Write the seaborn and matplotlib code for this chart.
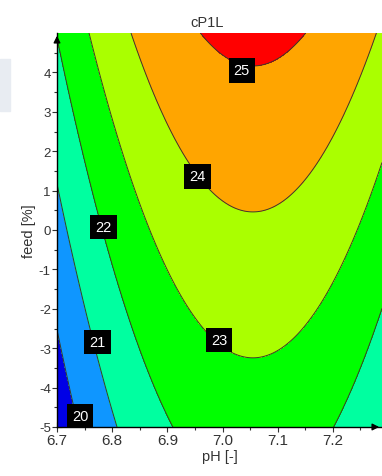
import numpy as np
import matplotlib
matplotlib.use("Agg")
import matplotlib.pyplot as plt
import matplotlib.patches as mpatches
import seaborn as sns

# Response surface model for cP1L (coefficients)
ph_opt = 7.055        # pH at which the response peaks
coef_const = 23.876   # response at feed 0, pH optimum
coef_feed = 0.27      # linear feed effect
coef_ph2 = 24.8       # curvature in pH
coef_ph3 = 1.5        # slight asymmetry in pH

# Contour levels and fill colours
levels = [20, 21, 22, 23, 24, 25]
fill_colors = ["#0000e6", "#0f96ff", "#00ffa0", "#00ff00", "#aaff00", "#ffa500", "#ff0000"]

# Labels of the contour lines
label_text = ["25", "24", "22", "21", "23", "20"]
label_ph = [7.035, 6.955, 6.784, 6.773, 6.994, 6.742]
label_feed = [4.05, 1.36, 0.08, -2.85, -2.80, -4.73]

ph_min, ph_max = 6.7, 7.289
feed_min, feed_max = -5, 5

sns.set_theme(style="white")
plt.rcParams["font.family"] = ["Liberation Sans", "DejaVu Sans"]
plt.rcParams["axes.unicode_minus"] = False

ph = np.linspace(ph_min, ph_max, 400)
feed = np.linspace(feed_min, feed_max, 400)
PH, FEED = np.meshgrid(ph, feed)
D = PH - ph_opt
Z = coef_const + coef_feed * FEED - coef_ph2 * D ** 2 + coef_ph3 * D ** 3

fig = plt.figure(figsize=(3.82, 4.77), dpi=100)
ax = fig.add_axes([57 / 382, 1 - 428 / 477, 1 - 57 / 382, (428 - 34) / 477])

# grey tab at the left edge
fig.patches.append(mpatches.Rectangle((0, 1 - 112 / 477), 10 / 382, 52 / 477,
                                      transform=fig.transFigure, color="#e8ecf2", zorder=0))

fill_levels = [Z.min() - 1] + levels + [Z.max() + 1]
ax.contourf(PH, FEED, Z, levels=fill_levels, colors=fill_colors)
ax.contour(PH, FEED, Z, levels=levels, colors="#3a3a2a", linewidths=0.7)

for txt, x, y in zip(label_text, label_ph, label_feed):
    ax.text(x, y, txt, color="white", fontsize=10.5, ha="center", va="center",
            bbox=dict(boxstyle="square,pad=0.35", fc="black", ec="none"))

ax.set_xlim(ph_min, ph_max)
ax.set_ylim(feed_min, feed_max)
ax.set_xticks([6.7, 6.8, 6.9, 7.0, 7.1, 7.2])
ax.set_xticklabels(["6.7", "6.8", "6.9", "7.0", "7.1", "7.2"])
ax.set_xticks(np.arange(6.75, 7.29, 0.1), minor=True)
ax.set_yticks(range(-5, 5))
ax.set_yticks(np.arange(-4.5, 5, 1.0), minor=True)

sns.despine(ax=ax)
for s in ["left", "bottom"]:
    ax.spines[s].set_color("black")
    ax.spines[s].set_linewidth(1.0)
ax.tick_params(axis="both", which="both", bottom=True, left=True)
ax.tick_params(axis="both", which="major", direction="inout", length=7, width=0.8,
               color="#333333", labelcolor="#333333")
ax.tick_params(axis="both", which="minor", direction="inout", length=4, width=0.8,
               color="#333333")
ax.tick_params(axis="x", labelsize=11, pad=1)
ax.tick_params(axis="y", labelsize=9.5, pad=1)

# arrow heads on the axes
ax.annotate("", xy=(1.0, 0), xytext=(0.97, 0), xycoords="axes fraction",
            arrowprops=dict(arrowstyle="-|>", color="black", lw=1, mutation_scale=10))
ax.annotate("", xy=(0, 1.0), xytext=(0, 0.97), xycoords="axes fraction",
            arrowprops=dict(arrowstyle="-|>", color="black", lw=1, mutation_scale=10))

ax.set_xlabel("pH [-]", fontsize=10.5, color="#333333", labelpad=1)
ax.set_ylabel("feed [%]", fontsize=10.5, color="#333333", labelpad=2)
fig.text(207 / 382, 1 - 23 / 477, "cP1L", fontsize=10.5, color="#333333",
         ha="center", va="center")

fig.savefig("out.png", dpi=100)
